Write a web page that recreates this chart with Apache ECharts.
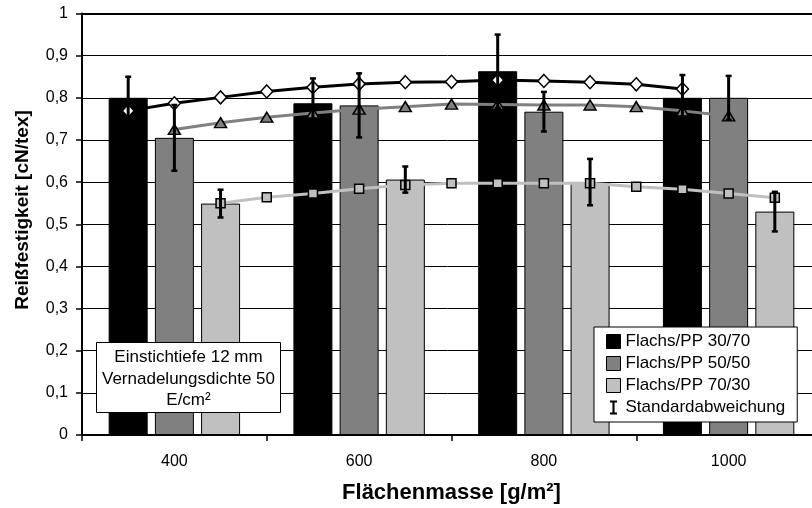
<!DOCTYPE html>
<html>
<head>
<meta charset="utf-8">
<script src="https://cdn.jsdelivr.net/npm/echarts@6/dist/echarts.min.js"></script>
<style>
  html, body { margin: 0; padding: 0; background: #fff; }
  #main { width: 812px; height: 508px; }
</style>
</head>
<body>
<div id="main"></div>
<script>
// Flächenmasse categories
let massX = [400, 600, 800, 1000];
let categories = massX.map(m => String(m));

// bar heights (Reißfestigkeit)
let s3070 = [0.800, 0.787, 0.863, 0.800];
let s5050 = [0.705, 0.782, 0.767, 0.800];
let s7030 = [0.549, 0.606, 0.600, 0.530];

// standard deviation
let err3070 = [0.050, 0.059, 0.087, 0.054];
let err5050 = [0.078, 0.076, 0.047, 0.052];
let err7030 = [0.033, 0.031, 0.055, 0.047];

// trend lines (x on the hidden value axis)
let fitX3070 = [350, 400, 450, 500, 550, 600, 650, 700, 750, 800, 850, 900, 950];
let fit3070 = [0.769, 0.787, 0.801, 0.815, 0.825, 0.833, 0.837, 0.838, 0.842, 0.840, 0.837, 0.832, 0.821];
let fitX5050 = [400, 450, 500, 550, 600, 650, 700, 750, 800, 850, 900, 950, 1000];
let fit5050 = [0.725, 0.741, 0.754, 0.764, 0.773, 0.779, 0.785, 0.784, 0.783, 0.783, 0.779, 0.769, 0.757];
let fitX7030 = [450, 500, 550, 600, 650, 700, 750, 800, 850, 900, 950, 1000, 1050];
let fit7030 = [0.550, 0.564, 0.573, 0.584, 0.593, 0.597, 0.597, 0.597, 0.597, 0.589, 0.583, 0.573, 0.563];

const FONT = 'Liberation Sans, Arial, sans-serif';

function pairs(xs, ys) {
    return xs.map((x, i) => [x, ys[i]]);
}

// error bar data: [x, low, high]
let errData = [];
for (let i = 0; i < massX.length; i++) {
    errData.push([massX[i] - 50, s3070[i] - err3070[i], s3070[i] + err3070[i]]);
    errData.push([massX[i], s5050[i] - err5050[i], s5050[i] + err5050[i]]);
    errData.push([massX[i] + 50, s7030[i] - err7030[i], s7030[i] + err7030[i]]);
}

function renderErr(params, api) {
    let x = api.value(0);
    let top = api.coord([x, api.value(2)]);
    let bot = api.coord([x, api.value(1)]);
    let cw = 3;
    return {
        type: 'group',
        children: [
            { type: 'line', shape: { x1: top[0], y1: top[1], x2: bot[0], y2: bot[1] }, style: { stroke: '#000', lineWidth: 3 } },
            { type: 'line', shape: { x1: top[0] - cw, y1: top[1], x2: top[0] + cw, y2: top[1] }, style: { stroke: '#000', lineWidth: 2.5 } },
            { type: 'line', shape: { x1: bot[0] - cw, y1: bot[1], x2: bot[0] + cw, y2: bot[1] }, style: { stroke: '#000', lineWidth: 2.5 } }
        ]
    };
}

let myChart = echarts.init(document.getElementById('main'), null, { renderer: 'canvas' });

let barStyle = c => ({ color: c, borderColor: '#000', borderWidth: 1 });

let option = {
    animation: false,
    backgroundColor: '#fff',
    textStyle: { fontFamily: FONT, color: '#000' },
    grid: { left: 82, top: 13.5, right: -9, bottom: 73, containLabel: false, outerBoundsMode: 'none' },
    legend: {
        orient: 'vertical',
        left: 594,
        top: 327,
        padding: [6, 12, 6, 12],
        itemWidth: 14,
        itemHeight: 14,
        itemGap: 5,
        backgroundColor: '#fff',
        borderColor: '#000',
        borderWidth: 1,
        borderRadius: 0,
        textStyle: { fontFamily: FONT, fontSize: 17, color: '#000' },
        data: [
            { name: 'Flachs/PP 30/70', icon: 'rect', itemStyle: barStyle('#000') },
            { name: 'Flachs/PP 50/50', icon: 'rect', itemStyle: barStyle('#808080') },
            { name: 'Flachs/PP 70/30', icon: 'rect', itemStyle: barStyle('#c0c0c0') },
            { name: 'Standardabweichung', icon: 'path://M0,0H10V3H6.5V17H10V20H0V17H3.5V3H0Z', itemStyle: { color: '#000' } }
        ]
    },
    xAxis: [
        {
            type: 'category',
            data: categories,
            boundaryGap: true,
            axisLine: { lineStyle: { color: '#000', width: 2 } },
            axisTick: { show: true, length: 6, lineStyle: { color: '#000', width: 1.5 } },
            axisLabel: { fontFamily: FONT, fontSize: 16, color: '#000', margin: 19 },
            splitLine: { show: false },
            name: 'Flächenmasse [g/m²]',
            nameLocation: 'middle',
            nameGap: 47,
            nameTextStyle: { fontFamily: FONT, fontSize: 22, fontWeight: 'bold', color: '#000' }
        },
        {
            type: 'value',
            min: 300,
            max: 1100,
            position: 'top',
            axisLine: { show: true, lineStyle: { color: '#000', width: 2 } },
            axisTick: { show: false },
            axisLabel: { show: false },
            splitLine: { show: false }
        }
    ],
    yAxis: {
        type: 'value',
        min: 0,
        max: 1,
        interval: 0.1,
        axisLine: { show: true, lineStyle: { color: '#000', width: 2 } },
        axisTick: { show: true, length: 6, lineStyle: { color: '#000', width: 1.5 } },
        axisLabel: {
            fontFamily: FONT, fontSize: 16, color: '#000', margin: 14,
            formatter: v => String(Math.round(v * 10) / 10).replace('.', ',')
        },
        splitLine: { show: true, lineStyle: { color: '#000', width: 1 } }
    },
    graphic: [
        {
            type: 'text',
            x: 23,
            y: 210,
            rotation: Math.PI / 2,
            style: {
                text: 'Reißfestigkeit [cN/tex]',
                fontFamily: FONT, fontSize: 19, fontWeight: 'bold', fill: '#000',
                textAlign: 'center', textVerticalAlign: 'middle'
            }
        },
        {
            type: 'rect',
            z: 100,
            shape: { x: 96.5, y: 342.5, width: 184, height: 70 },
            style: { fill: '#fff', stroke: '#000', lineWidth: 1 }
        },
        {
            type: 'text',
            z: 101,
            x: 188.5,
            y: 379,
            style: {
                text: 'Einstichtiefe 12 mm\nVernadelungsdichte 50\nE/cm²',
                fontFamily: FONT, fontSize: 17, fill: '#000', lineHeight: 21.5,
                textAlign: 'center', textVerticalAlign: 'middle'
            }
        }
    ],
    series: [
        { name: 'Flachs/PP 30/70', type: 'bar', data: s3070, barWidth: 39, barGap: '18.5%', itemStyle: barStyle('#000') },
        { name: 'Flachs/PP 50/50', type: 'bar', data: s5050, barWidth: 39, barGap: '18.5%', itemStyle: barStyle('#808080') },
        { name: 'Flachs/PP 70/30', type: 'bar', data: s7030, barWidth: 39, barGap: '18.5%', itemStyle: barStyle('#c0c0c0') },
        {
            name: 'Trend 30/70', type: 'line', xAxisIndex: 1, data: pairs(fitX3070, fit3070),
            lineStyle: { color: '#000', width: 3 },
            symbol: 'diamond', symbolSize: [12, 13], showAllSymbol: true,
            itemStyle: { color: '#fff', borderColor: '#000', borderWidth: 1.5 }
        },
        {
            name: 'Trend 50/50', type: 'line', xAxisIndex: 1, data: pairs(fitX5050, fit5050),
            lineStyle: { color: '#808080', width: 3 },
            symbol: 'triangle', symbolSize: [12, 10], showAllSymbol: true,
            itemStyle: { color: '#808080', borderColor: '#000', borderWidth: 1.5 }
        },
        {
            name: 'Trend 70/30', type: 'line', xAxisIndex: 1, data: pairs(fitX7030, fit7030),
            lineStyle: { color: '#c0c0c0', width: 3 },
            symbol: 'rect', symbolSize: 9, showAllSymbol: true,
            itemStyle: { color: '#c0c0c0', borderColor: '#000', borderWidth: 1.5 }
        },
        {
            name: 'Standardabweichung', type: 'custom', xAxisIndex: 1, yAxisIndex: 0,
            renderItem: renderErr, data: errData,
            encode: { x: 0, y: [1, 2] },
            itemStyle: { color: '#000' },
            z: 5
        }
    ]
};
myChart.setOption(option);
</script>
</body>
</html>
